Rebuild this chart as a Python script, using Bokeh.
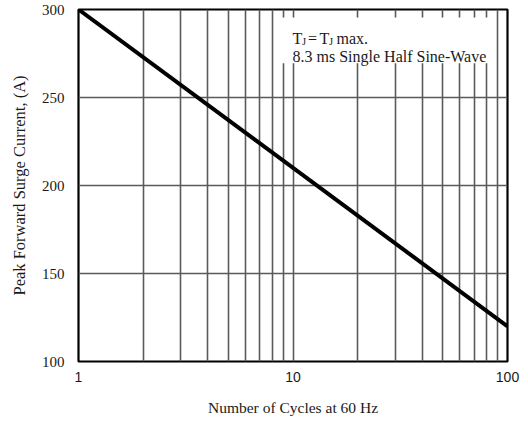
from bokeh.plotting import figure
from bokeh.models import Range1d, FixedTicker, BoxAnnotation, Label, PrintfTickFormatter
from bokeh.embed import file_html
from bokeh.resources import INLINE

# data
cycles = [1, 100]
surge_current = [300, 120]
x_ticks = [1, 10, 100]
x_grid = [2, 3, 4, 5, 6, 7, 8, 9, 10, 20, 30, 40, 50, 60, 70, 80, 90]
y_ticks = [100, 150, 200, 250, 300]
y_grid = [150, 200, 250]

SERIF = "Liberation Serif"
SANS = "Liberation Sans"

p = figure(width=520, height=420, x_axis_type="log",
           x_range=Range1d(1, 100), y_range=Range1d(100, 300),
           output_backend="svg", toolbar_location=None,
           min_border_left=78, min_border_right=13,
           min_border_top=9, min_border_bottom=59)
p.background_fill_color = "white"
p.border_fill_color = "white"
p.outline_line_color = "black"
p.outline_line_width = 2.2

p.xaxis.ticker = FixedTicker(ticks=x_ticks)
p.xaxis.formatter = PrintfTickFormatter(format="%d")
p.yaxis.ticker = FixedTicker(ticks=y_ticks)
p.xgrid.ticker = FixedTicker(ticks=x_grid)
p.ygrid.ticker = FixedTicker(ticks=y_grid)
for g in (p.xgrid, p.ygrid):
    g.grid_line_color = "#5a5a5a"
    g.grid_line_width = 1.6

for ax in (p.xaxis, p.yaxis):
    ax.axis_line_color = None
    ax.major_tick_line_color = None
    ax.minor_tick_line_color = None
    ax.major_tick_out = 0
    ax.major_tick_in = 0
    ax.minor_tick_out = 0
    ax.minor_tick_in = 0
    ax.major_label_text_color = "#1a1a1a"
    ax.axis_label_text_color = "#1a1a1a"
    ax.axis_label_text_font_style = "normal"

p.xaxis.major_label_text_font = SANS
p.xaxis.major_label_text_font_size = "14px"
p.xaxis.major_label_standoff = 10
p.xaxis.axis_label = "Number of Cycles at 60 Hz"
p.xaxis.axis_label_text_font = SERIF
p.xaxis.axis_label_text_font_size = "15.5px"
p.xaxis.axis_label_standoff = 14

p.yaxis.major_label_text_font = SERIF
p.yaxis.major_label_text_font_size = "15px"
p.yaxis.major_label_standoff = 14
p.yaxis.axis_label = "Peak Forward Surge Current, (A)"
p.yaxis.axis_label_text_font = SERIF
p.yaxis.axis_label_text_font_size = "16.5px"
p.yaxis.axis_label_standoff = 10

p.line(cycles, surge_current, line_color="black", line_width=4)

# white note box covering the grid
p.add_layout(BoxAnnotation(left=8.4, right=86, top=295.5, bottom=269.5,
                           fill_color="white", fill_alpha=1.0, line_color=None))

tx, ty1, ty2 = 9.95, 283.5, 273.3
pieces = [("T", 0, 0, 16), ("J", 9.5, -2.5, 10.5), ("=", 15.5, 0, 16),
          ("T", 27, 0, 16), ("J", 36.5, -2.5, 10.5), ("max.", 44, 0, 16)]
for txt, dx, dy, fs in pieces:
    p.add_layout(Label(x=tx, y=ty1, x_offset=dx, y_offset=dy, text=txt,
                       text_font=SERIF, text_font_size=f"{fs}px",
                       text_color="#1a1a1a", text_baseline="alphabetic"))
p.add_layout(Label(x=tx, y=ty2, text="8.3 ms Single Half Sine-Wave",
                   text_font=SERIF, text_font_size="16px",
                   text_color="#1a1a1a", text_baseline="alphabetic"))

open("out.html", "w").write(file_html(p, INLINE))
